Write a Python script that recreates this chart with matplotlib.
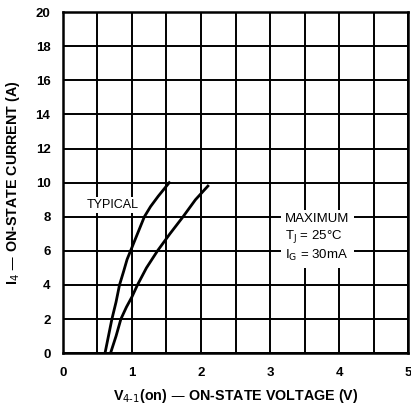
import matplotlib
matplotlib.use("Agg")
import matplotlib.pyplot as plt
from matplotlib.ticker import MultipleLocator

plt.rcParams['font.family'] = ['Liberation Sans', 'DejaVu Sans']

# curves (voltage V, current A)
typ_v = [0.61, 0.66, 0.71, 0.77, 0.82, 0.88, 0.93, 0.98, 1.02, 1.10, 1.18, 1.27, 1.38, 1.54]
typ_i = [0.0, 1.0, 2.0, 3.0, 4.0, 4.8, 5.5, 6.0, 6.4, 7.2, 8.0, 8.6, 9.2, 10.0]
max_v = [0.69, 0.77, 0.84, 0.92, 1.00, 1.08, 1.21, 1.37, 1.55, 1.74, 1.92, 2.10]
max_i = [0.0, 1.0, 2.0, 2.7, 3.3, 4.0, 5.0, 6.0, 7.0, 8.0, 9.0, 9.8]

x_ticks = [0, 1, 2, 3, 4, 5]
y_ticks = [0, 2, 4, 6, 8, 10, 12, 14, 16, 18, 20]

fig = plt.figure(figsize=(4.11, 4.05), dpi=100)
ax = fig.add_axes([0.153, 0.128, 0.840, 0.842])

ax.plot(typ_v, typ_i, color='black', lw=2)
ax.plot(max_v, max_i, color='black', lw=2)

ax.set_xlim(0, 5)
ax.set_ylim(0, 20)
ax.set_xticks(x_ticks)
ax.set_yticks(y_ticks)
ax.xaxis.set_minor_locator(MultipleLocator(0.5))
ax.grid(which='both', color='black', lw=1.4)
ax.tick_params(which='both', length=0, labelsize=9.5)
ax.tick_params(axis='y', pad=9)
ax.tick_params(axis='x', pad=10)
for lab in ax.get_xticklabels() + ax.get_yticklabels():
    lab.set_fontweight('bold')
for sp in ax.spines.values():
    sp.set_linewidth(1.8)

ax.set_xlabel("V$_{4\u20111}$(on) \u2014 ON-STATE VOLTAGE (V)", fontsize=10.3,
              fontweight='bold', labelpad=6)
ax.set_ylabel("I$_4$ \u2014 ON-STATE CURRENT (A)", fontsize=10.3,
              fontweight='bold', labelpad=10)

ax.text(0.34, 8.7, "TYPICAL", fontsize=9, va='center', ha='left',
        bbox=dict(facecolor='white', edgecolor='none', pad=1.5))
ax.text(3.22, 6.75, "MAXIMUM\nT$_\\mathrm{J}$ = 25\u00b0C\nI$_\\mathrm{G}$ = 30mA", fontsize=9.5,
        va='center', ha='left', linespacing=1.3,
        bbox=dict(facecolor='white', edgecolor='none', pad=3))

fig.savefig("out.png", dpi=100)
